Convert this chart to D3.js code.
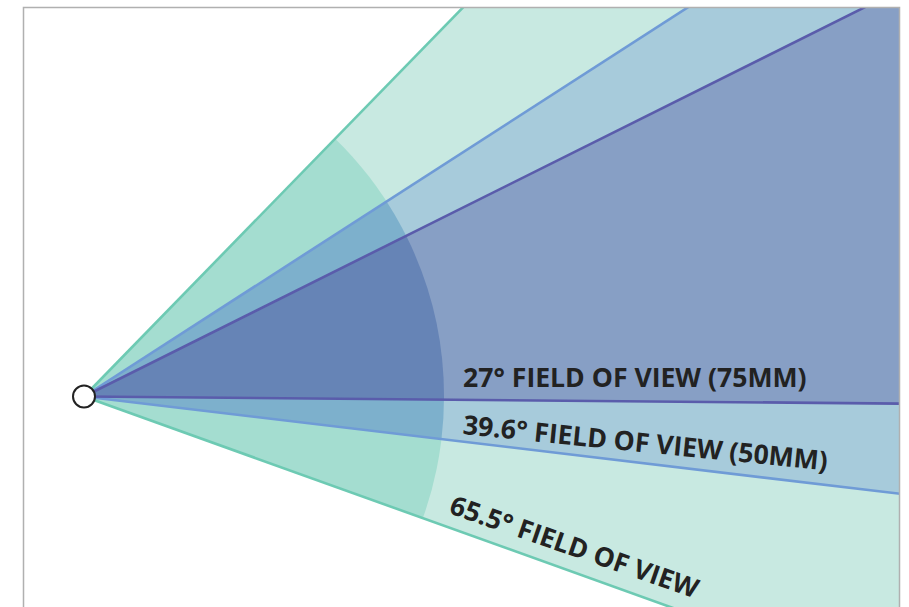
<!DOCTYPE html>
<html>
<head>
<meta charset="utf-8">
<script src="https://cdn.jsdelivr.net/npm/d3@7"></script>
<style>
  html, body { margin: 0; padding: 0; background: #ffffff; }
  svg { display: block; }
</style>
</head>
<body>
<div id="chart"></div>
<script>
// ---- data ----
const fovAngles = [65.5, 39.6, 27];
const fovLabels = ["65.5° FIELD OF VIEW", "39.6° FIELD OF VIEW (50MM)", "27° FIELD OF VIEW (75MM)"];
const outerColors = ["#c8e9e1", "#a7cbdb", "#879fc5"];
const innerColors = ["#a4ddd0", "#7db0cc", "#6684b6"];
const edgeColors = ["#6dcab3", "#6f9bd6", "#5a5cab"];

// ---- layout ----
const W = 909, H = 607;
const frame = { x0: 24, y0: 8, x1: 900, y1: 640 };
const origin = [84, 396.5];
const axisDeg = 13;          // tilt of common axis above horizontal
const innerR = 360, outerR = 2000;
const labelLayout = [
  { along: 382, perp: 13.4, rot: 19.1 },
  { along: 380, perp: 7.5, rot: 5.7 },
  { along: 379, perp: 12.5, rot: 0 }
];

const svg = d3.select("#chart").append("svg").attr("width", W).attr("height", H);

svg.append("defs").append("clipPath").attr("id", "clip")
  .append("rect")
  .attr("x", frame.x0).attr("y", frame.y0)
  .attr("width", frame.x1 - frame.x0).attr("height", frame.y1 - frame.y0);

const g = svg.append("g").attr("clip-path", "url(#clip)");
const toRad = d => d * Math.PI / 180;
// d3.arc angle: 0 at 12 o'clock, clockwise
const axisArc = toRad(90 - axisDeg);

const wedges = fovAngles.map((a, i) => ({
  angle: a, label: fovLabels[i],
  start: axisArc - toRad(a / 2), end: axisArc + toRad(a / 2), i
}));

const arcOuter = d3.arc().innerRadius(0).outerRadius(outerR);
const arcInner = d3.arc().innerRadius(0).outerRadius(innerR);

const wg = g.selectAll("g.wedge").data(wedges).join("g")
  .attr("class", "wedge")
  .attr("transform", `translate(${origin[0]},${origin[1]})`);

wg.append("path")
  .attr("d", d => arcOuter({ startAngle: d.start, endAngle: d.end }))
  .attr("fill", d => outerColors[d.i]);
wg.append("path")
  .attr("d", d => arcInner({ startAngle: d.start, endAngle: d.end }))
  .attr("fill", d => innerColors[d.i]);

// edges (screen angle: measured from +x, y down)
const edgeG = g.append("g");
wedges.forEach(d => {
  [axisDeg + d.angle / 2, axisDeg - d.angle / 2].forEach(deg => {
    const t = toRad(deg);
    edgeG.append("line")
      .attr("x1", origin[0]).attr("y1", origin[1])
      .attr("x2", origin[0] + outerR * Math.cos(t))
      .attr("y2", origin[1] - outerR * Math.sin(t))
      .attr("stroke", edgeColors[d.i])
      .attr("stroke-width", 2.6);
  });
});

// labels along lower edges
wedges.forEach(d => {
  const L = labelLayout[d.i];
  const t = toRad(axisDeg - d.angle / 2);
  const ux = Math.cos(t), uy = -Math.sin(t);
  const nx = uy, ny = -ux;
  const x = origin[0] + L.along * ux + L.perp * nx;
  const y = origin[1] + L.along * uy + L.perp * ny;
  svg.append("text")
    .attr("transform", `translate(${x},${y}) rotate(${L.rot})`)
    .attr("font-family", "'Open Sans', sans-serif")
    .attr("font-weight", 700)
    .attr("font-size", 26.6)
    .attr("fill", "#222222")
    .text(d.label);
});

// frame
svg.append("rect")
  .attr("x", frame.x0 - 0.5).attr("y", frame.y0 - 0.5)
  .attr("width", frame.x1 - frame.x0).attr("height", frame.y1 - frame.y0)
  .attr("fill", "none").attr("stroke", "#b0b0b0").attr("stroke-width", 1.5);

// origin circle
svg.append("circle")
  .attr("cx", origin[0]).attr("cy", origin[1]).attr("r", 11)
  .attr("fill", "#ffffff").attr("stroke", "#222222").attr("stroke-width", 2);
</script>
</body>
</html>
